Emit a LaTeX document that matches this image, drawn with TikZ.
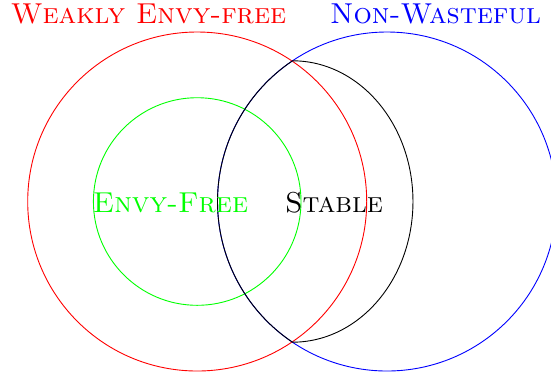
\documentclass[tikz,border=0pt]{standalone}
\begin{document}
\begin{tikzpicture}[x=0.5pt,y=-0.5pt,
  lbl/.style={font=\Large\scshape, anchor=base, inner sep=0pt},
  ring/.style={line width=0.45pt}]
\useasboundingbox (0,0) rectangle (551,377);
\coordinate (cr) at (197.2,201.5);
\coordinate (cb) at (387,201.5);
\coordinate (top) at ([shift={(236.1:169.5)}]cb);
\draw[ring, red] (cr) circle [radius=169.5];
\draw[ring, green] (cr) circle [radius=103.8];
\draw[ring, blue] (cb) circle [radius=169.5];
\draw[ring, black] (top) arc [start angle=236.1, end angle=123.9, radius=169.5]
  arc [start angle=90, end angle=-90, x radius=120.5, y radius=140.7];
\node[lbl, text=red] (wef) at (148.5,23.5) {Weakly Envy-free};
\node[lbl, text=blue] (nw) at (435.5,23.5) {Non-Wasteful};
\node[lbl, text=green] (ef) at (170.5,212) {Envy-Free};
\node[lbl, text=black] (st) at (334,212) {Stable};
\end{tikzpicture}
\end{document}
